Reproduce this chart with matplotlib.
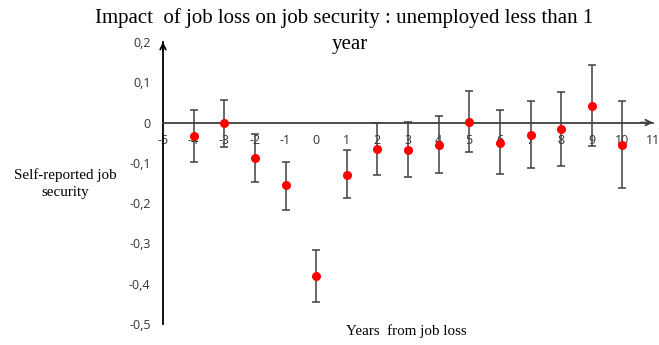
import matplotlib as mpl
from matplotlib import pyplot as plt

# years relative to job loss
years = [-4, -3, -2, -1, 0, 1, 2, 3, 4, 5, 6, 7, 8, 9, 10]
# point estimates and confidence interval bounds
estimates = [-0.034, 0.0, -0.088, -0.156, -0.380, -0.130, -0.066, -0.069,
             -0.056, 0.002, -0.050, -0.030, -0.017, 0.041, -0.056]
upper = [0.030, 0.056, -0.028, -0.099, -0.316, -0.069, -0.002, 0.001,
         0.017, 0.079, 0.030, 0.053, 0.075, 0.144, 0.053]
lower = [-0.098, -0.060, -0.148, -0.218, -0.446, -0.187, -0.131, -0.135,
         -0.125, -0.074, -0.128, -0.112, -0.109, -0.059, -0.163]

xticks = list(range(-5, 12))
yticks = [0.2, 0.1, 0.0, -0.1, -0.2, -0.3, -0.4, -0.5]
ylabels = ['0,2', '0,1', '0', '-0,1', '-0,2', '-0,3', '-0,4', '-0,5']


def main():
    fig = plt.figure(figsize=(6.59, 3.45), dpi=100)
    ax = fig.add_axes([163 / 659, 1 - 324 / 345, 490 / 659, 282 / 345])
    ax.set_xlim(-5, 11)
    ax.set_ylim(-0.5, 0.2)

    serif = 'Liberation Serif'
    sans = 'Open Sans'

    # axes through origin at x=-5, y=0
    for s in ['top', 'right']:
        ax.spines[s].set_visible(False)
    ax.spines['bottom'].set_position(('data', 0))
    ax.spines['left'].set_position(('data', -5))
    ax.spines['bottom'].set_linewidth(1.3)
    ax.spines['bottom'].set_color('#404040')
    ax.spines['left'].set_linewidth(1.3)
    ax.annotate('', xy=(11, 0), xytext=(10.6, 0),
                arrowprops=dict(arrowstyle='->', lw=1.3, color='#404040',
                                shrinkA=0, shrinkB=0),
                annotation_clip=False)
    ax.annotate('', xy=(-5, 0.2), xytext=(-5, 0.18),
                arrowprops=dict(arrowstyle='->', lw=1.3, color='k',
                                shrinkA=0, shrinkB=0),
                annotation_clip=False)

    ax.set_xticks(xticks)
    ax.set_xticklabels([str(t) for t in xticks], fontfamily=sans,
                       fontsize=9, color='#333333')
    ax.set_yticks(yticks)
    ax.set_yticklabels(ylabels, fontfamily=sans, fontsize=9,
                       color='#333333')
    ax.tick_params(axis='x', length=0, pad=8.5)
    ax.tick_params(axis='y', length=0, pad=9)

    yerr = [[e - lo for e, lo in zip(estimates, lower)],
            [up - e for e, up in zip(estimates, upper)]]
    ax.errorbar(years, estimates, yerr=yerr, fmt='none', ecolor='#404040',
                elinewidth=1.1, capsize=3, capthick=1.1, zorder=3,
                clip_on=False)
    ax.plot(years, estimates, 'o', color='#ff0000', markersize=5.5,
            zorder=4, clip_on=False)

    fig.text(344 / 659, 1 - 18 / 345,
             'Impact  of job loss on job security : unemployed less than 1',
             ha='center', va='center', fontfamily=serif, fontsize=15)
    fig.text(350 / 659, 1 - 45 / 345, 'year', ha='center', va='center',
             fontfamily=serif, fontsize=15)
    fig.text(65 / 659, 1 - 184 / 345, 'Self-reported job\nsecurity',
             ha='center', va='center', fontfamily=serif, fontsize=10.8,
             linespacing=1.4)
    fig.text(406 / 659, 1 - 331 / 345, 'Years  from job loss', ha='center',
             va='center', fontfamily=serif, fontsize=10.8)

    fig.savefig('out.png', dpi=100)


if __name__ == '__main__':
    main()
